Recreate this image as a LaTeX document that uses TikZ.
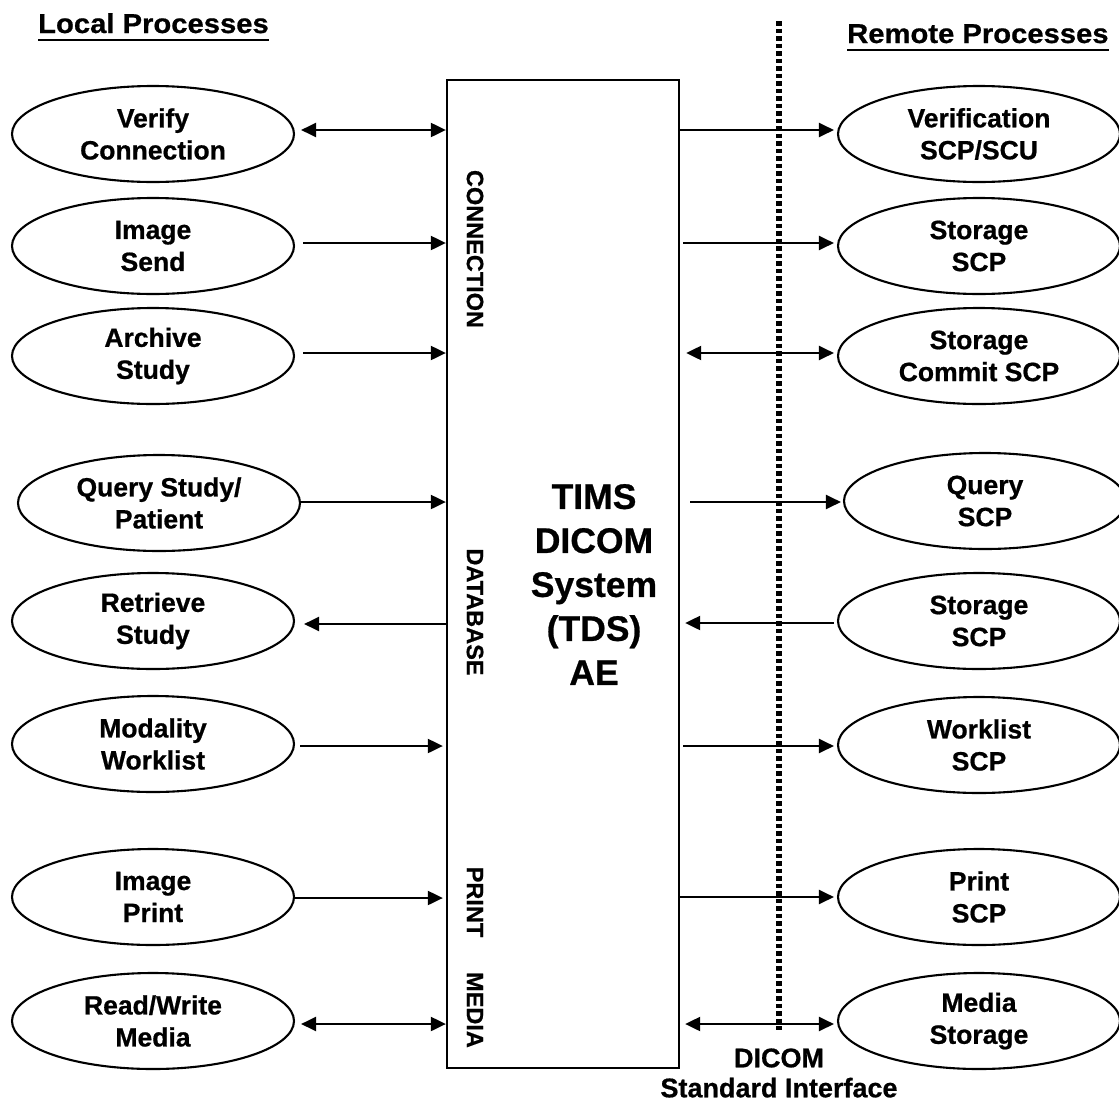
\documentclass[tikz,border=0pt]{standalone}
\usepackage{fontspec}
\setmainfont{Liberation Sans}[BoldFeatures={FakeBold=0.7}]
\newfontfamily\headfont{Liberation Sans}[FakeStretch=1.07,BoldFeatures={FakeBold=0.7}]
\usetikzlibrary{shapes.geometric,arrows.meta,calc}
\tikzset{
  proc/.style={draw, ellipse, line width=2.1pt, minimum width=282pt, minimum height=96pt,
    inner sep=0pt, align=center, font=\bfseries\fontsize{26.5}{32}\selectfont},
  oneway/.style={line width=2.1pt, -{Triangle[length=15pt,width=14pt]}},
  twoway/.style={line width=2.1pt, {Triangle[length=15pt,width=14pt]}-{Triangle[length=15pt,width=14pt]}},
  side/.style={rotate=-90, inner sep=0pt, font=\bfseries\fontsize{23.5}{28}\selectfont},
  heading/.style={anchor=base west, inner sep=0pt, font=\headfont\bfseries\fontsize{27.3}{32}\selectfont},
}
\begin{document}
\begin{tikzpicture}[x=1pt,y=-1pt]
\fill[white] (0,0) rectangle (1119,1103);
\path[use as bounding box] (0,0) rectangle (1119,1103);

% headings
\node[heading] (lp) at (38,33) {Local Processes};
\draw[line width=2.6pt] ([yshift=-7pt]lp.base west) -- ([yshift=-7pt]lp.base east);
\node[heading] (rp) at (847,43) {Remote Processes};
\draw[line width=2.6pt] ([yshift=-7pt]rp.base west) -- ([yshift=-7pt]rp.base east);

% dotted interface line
\coordinate (dtop) at (779,21);
\coordinate (dbot) at (779,1030);
\draw[line width=5.5pt, dash pattern=on 4.5pt off 3pt] (dtop) -- (dbot);

% central box
\node[draw, line width=2.3pt, minimum width=232pt, minimum height=988pt, inner sep=0pt] (box) at (563,574) {};
\node[align=center, font=\bfseries\fontsize{35.5}{44}\selectfont] (tims) at (594,584.5) {TIMS\\DICOM\\System\\(TDS)\\AE};
\node[side] (sconn) at (475,249) {CONNECTION};
\node[side] (sdb) at (475,612) {DATABASE};
\node[side] (sprint) at (475,902) {PRINT};
\node[side] (smedia) at (475,1010) {MEDIA};

% local processes
\node[proc] (L1) at (153,134) {Verify\\Connection};
\node[proc] (L2) at (153,246) {Image\\Send};
\node[proc] (L3) at (153,356) {Archive\\Study};
\node[proc] (L4) at (159,503) {Query Study/\\Patient};
\node[proc] (L5) at (153,621) {Retrieve\\Study};
\node[proc] (L6) at (153,744) {Modality\\Worklist};
\node[proc] (L7) at (153,897) {Image\\Print};
\node[proc] (L8) at (153,1021) {Read/Write\\Media};

% remote processes
\node[proc] (R1) at (979,134) {Verification\\SCP/SCU};
\node[proc] (R2) at (979,246) {Storage\\SCP};
\node[proc] (R3) at (979,356) {Storage\\Commit SCP};
\node[proc] (R4) at (985,501) {Query\\SCP};
\node[proc] (R5) at (979,621) {Storage\\SCP};
\node[proc] (R6) at (979,745) {Worklist\\SCP};
\node[proc] (R7) at (979,897) {Print\\SCP};
\node[proc] (R8) at (979,1021) {Media\\Storage};

\node[align=center, font=\bfseries\fontsize{27}{30}\selectfont] (dsi) at (779,1073) {DICOM\\Standard Interface};

% left connectors
\path ([shift={(6,-4)}]L1.east) coordinate (s1);
\draw[twoway] (s1) -- (s1 -| box.west);
\path ([shift={(8,-3)}]L2.east) coordinate (s2);
\draw[oneway] (s2) -- (s2 -| box.west);
\path ([shift={(8,-3)}]L3.east) coordinate (s3);
\draw[oneway] (s3) -- (s3 -| box.west);
\path ([shift={(0,-1)}]L4.east) coordinate (s4);
\draw[oneway] (s4) -- (s4 -| box.west);
\path ([shift={(9,3)}]L5.east) coordinate (s5);
\draw[oneway] (s5 -| box.west) -- (s5);
\path ([shift={(5,2)}]L6.east) coordinate (s6);
\draw[oneway, shorten >=3pt] (s6) -- (s6 -| box.west);
\path ([shift={(0,1)}]L7.east) coordinate (s7);
\draw[oneway, shorten >=3pt] (s7) -- (s7 -| box.west);
\path ([shift={(6,3)}]L8.east) coordinate (s8);
\draw[twoway] (s8) -- (s8 -| box.west);

% right connectors
\path ([shift={(-3,-4)}]R1.west) coordinate (e1);
\draw[oneway] (e1 -| box.east) -- (e1);
\path ([shift={(-3,-3)}]R2.west) coordinate (e2);
\draw[oneway, shorten <=3pt] (e2 -| box.east) -- (e2);
\path ([shift={(-3,-3)}]R3.west) coordinate (e3);
\draw[twoway, shorten <=6pt] (e3 -| box.east) -- (e3);
\path ([shift={(-2,1)}]R4.west) coordinate (e4);
\draw[oneway, shorten <=10pt] (e4 -| box.east) -- (e4);
\path ([shift={(-3,2)}]R5.west) coordinate (e5);
\draw[oneway, shorten >=5pt] (e5) -- (e5 -| box.east);
\path ([shift={(-3,1)}]R6.west) coordinate (e6);
\draw[oneway, shorten <=3pt] (e6 -| box.east) -- (e6);
\path ([shift={(-3,0)}]R7.west) coordinate (e7);
\draw[oneway] (e7 -| box.east) -- (e7);
\path ([shift={(-3,3)}]R8.west) coordinate (e8);
\draw[twoway, shorten <=5pt] (e8 -| box.east) -- (e8);
\end{tikzpicture}
\end{document}
